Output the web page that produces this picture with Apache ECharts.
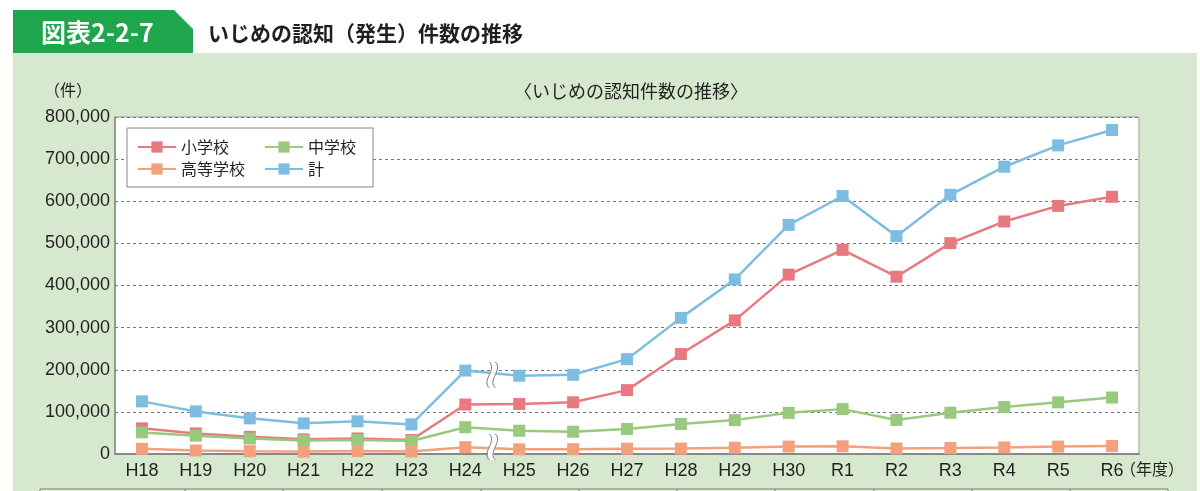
<!DOCTYPE html>
<html>
<head>
<meta charset="utf-8">
<script src="https://cdn.jsdelivr.net/npm/echarts@6/dist/echarts.min.js"></script>
<style>
  html, body { margin: 0; padding: 0; background: #fff; }
  #main { width: 1200px; height: 491px; }
</style>
</head>
<body>
<div id="main"></div>
<script>
// 年度
const years = ["H18", "H19", "H20", "H21", "H22", "H23", "H24", "H25", "H26", "H27",
  "H28", "H29", "H30", "R1", "R2", "R3", "R4", "R5", "R6"];

// 認知件数
const elementary = [60897, 48896, 40807, 34766, 36909, 33124, 117384, 118748, 122734, 151692,
  237256, 317121, 425844, 484545, 420897, 500562, 551944, 588930, 610612];
const juniorHigh = [51310, 43505, 36795, 32111, 33323, 30749, 63634, 55248, 52971, 59502,
  71309, 80424, 97704, 106524, 80877, 97937, 111404, 122703, 134000];
const highSchool = [12307, 8355, 6737, 5642, 7018, 6020, 16274, 11039, 11404, 12664,
  12874, 14789, 17709, 18352, 13126, 14157, 15568, 17611, 19000];
const total = [124898, 101097, 84648, 72778, 77630, 70231, 198109, 185803, 188072, 225132,
  323143, 414378, 543933, 612496, 517163, 615351, 681948, 732568, 769022];

// 調査方法変更の波線（H24とH25の間）
const breakAfter = 6;
const breakLevels = [188000, 17000];

const FONT = "'Liberation Sans', 'Noto Sans CJK JP', sans-serif";
const JP = "'Noto Sans CJK JP', sans-serif";

const chart = echarts.init(document.getElementById("main"));

function makeSeries(name, data, color) {
  return {
    name: name,
    type: "line",
    data: data,
    symbol: "rect",
    symbolSize: 12,
    itemStyle: { color: color },
    lineStyle: { color: color, width: 2.5 },
    emphasis: { disabled: true }
  };
}

const option = {
  animation: false,
  title: {
    text: "〈いじめの認知件数の推移〉",
    left: 509,
    top: 77,
    textStyle: { fontFamily: JP, fontSize: 18, fontWeight: "normal", color: "#231f20" }
  },
  legend: {
    left: 127,
    top: 128,
    width: 230,
    padding: [11, 17, 10, 10],
    backgroundColor: "#fff",
    borderColor: "#888",
    borderWidth: 1,
    borderRadius: 0,
    itemWidth: 38,
    itemHeight: 14,
    itemGap: 6,
    textStyle: { fontFamily: JP, fontSize: 16, color: "#231f20", lineHeight: 16 },
    data: [
      { name: "小学校", textStyle: { width: 77 } },
      { name: "中学校" },
      { name: "高等学校", textStyle: { width: 77 } },
      { name: "計" }
    ]
  },
  grid: {
    left: 115,
    right: 61,
    top: 117,
    bottom: 37,
    show: true,
    backgroundColor: "#fff",
    borderColor: "#999",
    borderWidth: 1
  },
  xAxis: {
    type: "category",
    data: years,
    axisLine: { lineStyle: { color: "#888", width: 2 } },
    axisTick: { show: false },
    axisLabel: { fontFamily: FONT, fontSize: 18, color: "#231f20", margin: 8 }
  },
  yAxis: {
    type: "value",
    min: 0,
    max: 800000,
    interval: 100000,
    axisLine: { show: true, lineStyle: { color: "#888", width: 1.5 } },
    axisTick: { show: false },
    axisLabel: {
      fontFamily: FONT, fontSize: 18, color: "#231f20", margin: 5,
      formatter: v => v.toLocaleString("en-US")
    },
    splitLine: { lineStyle: { color: "#777", type: [3, 3], width: 1 } }
  },
  series: [
    makeSeries("小学校", elementary, "#e87980"),
    makeSeries("中学校", juniorHigh, "#98c97c"),
    makeSeries("高等学校", highSchool, "#f2a17c"),
    makeSeries("計", total, "#7ebde2")
  ]
};

chart.setOption(option);

// 背景・見出し・下の表
const graphics = [
  { type: "rect", z: -10, shape: { x: 13, y: 53, width: 1184, height: 440 },
    style: { fill: "#d6e9cf" } },
  { type: "polygon", z: -10,
    shape: { points: [[13, 10], [174, 10], [193, 29], [193, 53], [13, 53]] },
    style: { fill: "#1fa54b" } },
  { type: "text", x: 41, y: 32,
    style: { text: "図表2-2-7", fill: "#fff", font: "bold 25px " + JP, verticalAlign: "middle" } },
  { type: "text", x: 208, y: 33,
    style: { text: "いじめの認知（発生）件数の推移", fill: "#231f20", font: "bold 21px " + JP, verticalAlign: "middle" } },
  { type: "text", x: 44, y: 90,
    style: { text: "（件）", fill: "#231f20", font: "16px " + JP, verticalAlign: "middle" } },
  { type: "text", x: 1120, y: 469,
    style: { text: "（年度）", fill: "#231f20", font: "16px " + JP, verticalAlign: "middle" } },
  { type: "rect", z: -5, shape: { x: 40, y: 489, width: 1128, height: 10 },
    style: { fill: "#e3efd3", stroke: "#777", lineWidth: 1 } }
];
const dividers = [185, 283, 382, 481, 579, 677, 775, 874, 972, 1070];
dividers.forEach(x => {
  graphics.push({ type: "line", z: -4, shape: { x1: x, y1: 489, x2: x, y2: 495 },
    style: { stroke: "#777", lineWidth: 1 } });
});

// 波線
breakLevels.forEach(v => {
  const a = chart.convertToPixel({ gridIndex: 0 }, [breakAfter, v]);
  const b = chart.convertToPixel({ gridIndex: 0 }, [breakAfter + 1, v]);
  const cx = (a[0] + b[0]) / 2 - 3;
  const cy = a[1];
  graphics.push({
    type: "group", x: cx, y: cy,
    children: [
      { type: "polygon", z: 100,
        shape: { points: [[0, -13], [2, -6], [0, 0], [-2, 6], [0, 13],
          [6, 13], [4, 6], [6, 0], [8, -6], [6, -13]] },
        style: { fill: "#fff" } },
      { type: "bezierCurve", z: 101,
        shape: { x1: 0, y1: -13, cpx1: 8, cpy1: -5, cpx2: -8, cpy2: 5, x2: 0, y2: 13 },
        style: { fill: null, stroke: "#777", lineWidth: 1 } },
      { type: "bezierCurve", z: 101,
        shape: { x1: 6, y1: -13, cpx1: 14, cpy1: -5, cpx2: -2, cpy2: 5, x2: 6, y2: 13 },
        style: { fill: null, stroke: "#777", lineWidth: 1 } }
    ]
  });
});

chart.setOption({ graphic: graphics });
</script>
</body>
</html>
